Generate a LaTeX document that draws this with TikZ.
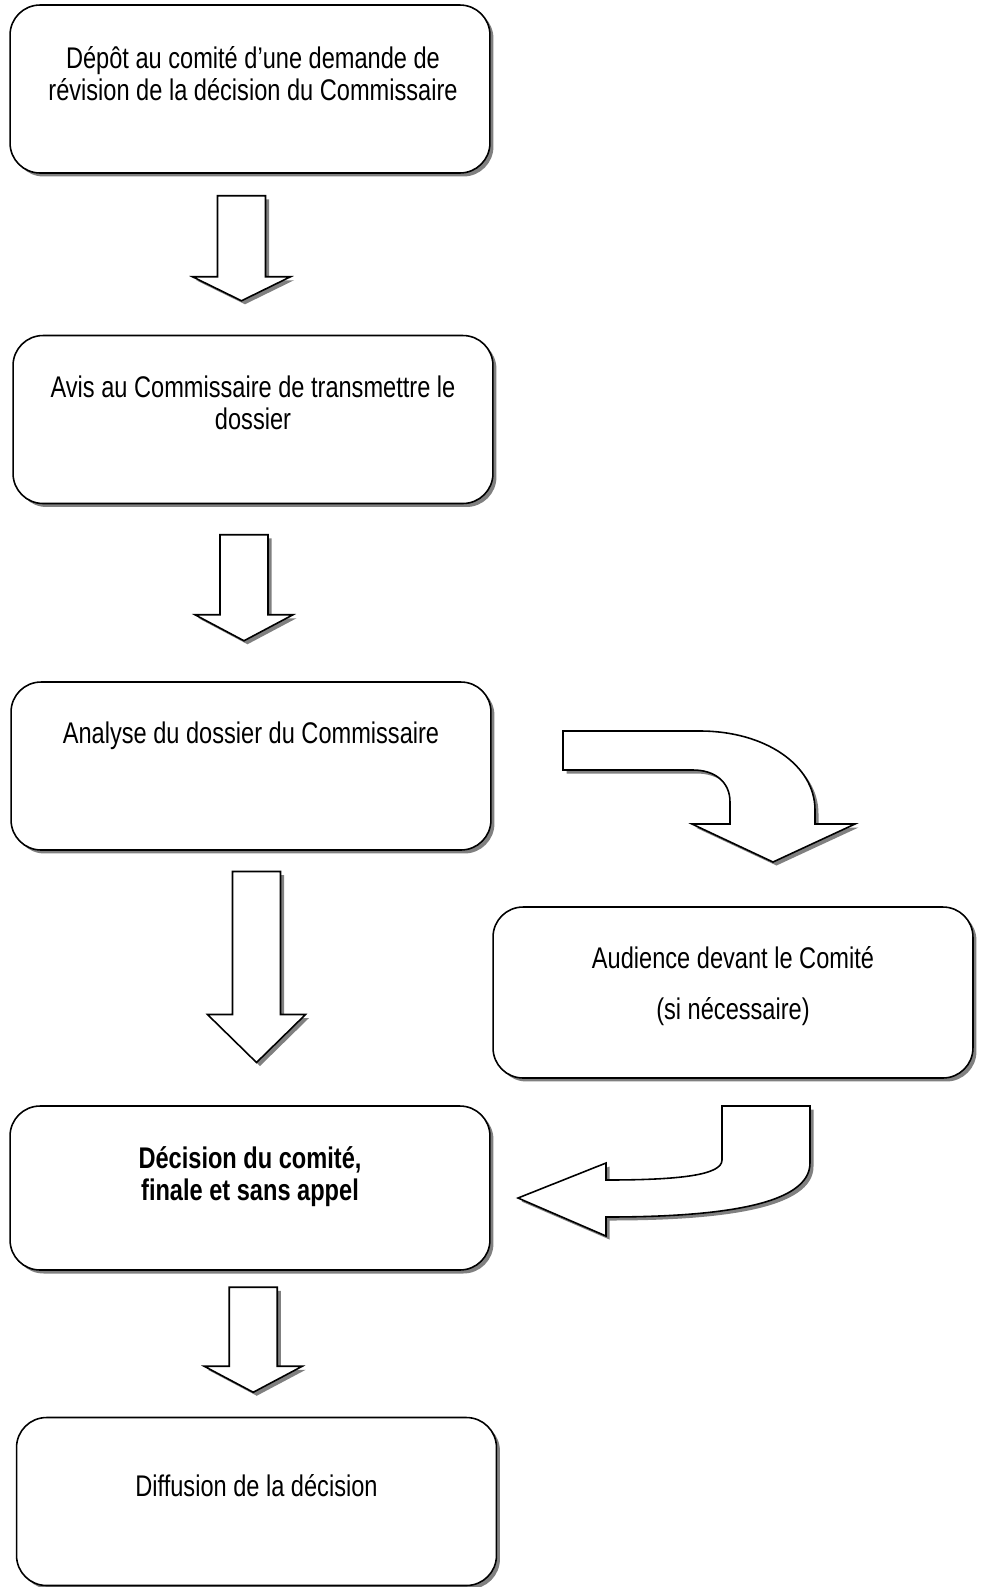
\documentclass[tikz,border=0pt]{standalone}
\usepackage{fontspec}
\setmainfont{Liberation Sans}[FakeStretch=0.79]
\usetikzlibrary{shadows,calc}

\tikzset{
  shade/.style={drop shadow={shadow xshift=0.07cm,shadow yshift=-0.07cm,fill=black!50,opacity=1}},
  box/.style={draw,line width=0.9pt,rounded corners=0.6cm,fill=white,shade,
    minimum width=9.6cm,minimum height=3.36cm},
  txt/.style={align=center,inner sep=0pt,anchor=base,font=\fontsize{17}{18}\selectfont},
  blockarrow/.style={draw,line width=0.9pt,fill=white,line join=miter,shade},
  % straight block arrow: #1 total length, #2 head length
  pics/blockdown/.style 2 args={code={
    \draw[blockarrow] (-24,-#1/2) -- (24,-#1/2) -- (24,#1/2-#2) -- (49,#1/2-#2)
      -- (0,#1/2) -- (-49,#1/2-#2) -- (-24,#1/2-#2) -- cycle;}}
}

\begin{document}
\begin{tikzpicture}[x=0.02cm,y=-0.02cm]
\useasboundingbox (0,0) rectangle (986,1587);

% boxes
\node[box] (b1) at (250,89) {};
\node[box] (b2) at (253,419.5) {};
\node[box] (b3) at (251,766) {};
\node[box,minimum height=3.42cm] (b4) at (733,992.5) {};
\node[box,minimum height=3.28cm] (b5) at (250,1188) {};
\node[box] (b6) at (256.5,1501.5) {};

% texts (placed on the last baseline)
\node[txt] (t1) at (253,100) {Dépôt au comité d’une demande de\\révision de la décision du Commissaire};
\node[txt] (t2) at (253,429) {Avis au Commissaire de transmettre le\\dossier};
\node[txt] (t3) at (251,743) {Analyse du dossier du Commissaire};
\node[txt] (t4) at (733,1019) {Audience devant le Comité\\[11pt](si nécessaire)};
\node[txt,font=\fontsize{17}{18}\selectfont\bfseries] (t5) at (250,1200) {Décision du comité,\\finale et sans appel};
\node[txt] (t6) at (256.5,1496) {Diffusion de la décision};

% straight arrows
\pic at ($(b1.south)!0.5!(b2.north)+(-10,-6)$) {blockdown={105}{24}};
\pic at ($(b2.south)!0.5!(b3.north)+(-8,-5)$) {blockdown={106}{26}};
\pic at ($(b3.south)!0.5!(b5.north)+(6,-11)$) {blockdown={191}{48}};
\pic at ($(b5.south)!0.5!(b6.north)+(0,-4)$) {blockdown={105}{26}};

% bent arrow to the hearing
\draw[blockarrow] (563,731) -- (700,731) .. controls (765,731) and (815,765) .. (815,810)
  -- (815,824) -- (855,824) -- (773,862) -- (692,824) -- (730,824) -- (730,802)
  .. controls (730,782) and (715,770) .. (693,770) -- (563,770) -- cycle;

% bent arrow back to the decision
\draw[blockarrow] (722,1106) -- (810,1106) -- (810,1163)
  .. controls (810,1205) and (720,1217) .. (606,1217) -- (606,1236) -- (518,1198)
  -- (606,1163) -- (606,1180) .. controls (680,1180) and (722,1175) .. (722,1160) -- cycle;
\end{tikzpicture}
\end{document}
